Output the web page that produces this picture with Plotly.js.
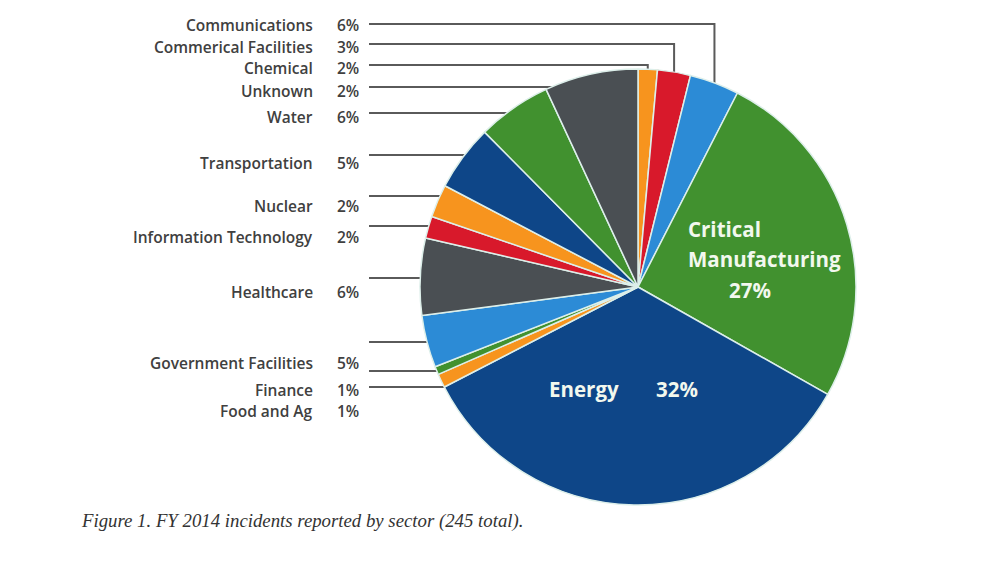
<!DOCTYPE html>
<html>
<head>
<meta charset="utf-8">
<script src="https://cdn.plot.ly/plotly-3.0.1.min.js"></script>
<style>html,body{margin:0;padding:0;background:#fff;}#chart{width:1000px;height:562px;}</style>
</head>
<body>
<div id="chart"></div>
<script>
// ---- data (clockwise from 12 o'clock) ----
const sectors = ['Chemical','Commerical Facilities','Communications','Critical Manufacturing','Energy',
  'Food and Ag','Finance','Government Facilities','Healthcare','Information Technology',
  'Nuclear','Transportation','Water','Unknown'];
const incidents = [3.5, 6, 9, 63, 84, 2.5, 1.5, 9.5, 14, 4, 6, 12, 13.5, 17];
const pctLabels = ['2%','3%','6%','27%','32%','1%','1%','5%','6%','2%','2%','5%','6%','2%'];
// left-hand label list, top to bottom
const listNames = ['Communications','Commerical Facilities','Chemical','Unknown','Water',
  'Transportation','Nuclear','Information Technology','Healthcare','Government Facilities','Finance','Food and Ag'];
const captionText = 'Figure 1. FY 2014 incidents reported by sector (245 total).';

// ---- styling ----
const palette = {orange:'#F7941E', red:'#D8192B', blue:'#2C8BD6', green:'#41912F', navy:'#0E4688', gray:'#4A4F53'};
const sliceColors = [palette.orange, palette.red, palette.blue, palette.green, palette.navy,
  palette.orange, palette.green, palette.blue, palette.gray, palette.red,
  palette.orange, palette.navy, palette.green, palette.gray];

const W = 1000, H = 562;
const cx = 638, cy = 287, R = 218;
const px = x => x / W, py = y => 1 - y / H;

// label layout (pixel rows)
const labelY = [25, 47, 68, 91, 117, 163, 206, 237, 292, 363, 390, 411];
const lineY  = [24, 44, 65, 87, 113, 155, 196, 226, 278, 342, 371, 387];
const verticalDrop = [true, true, true, false, false, false, false, false, false, false, false, false];

// slice geometry from data
const total = incidents.reduce((a, b) => a + b, 0);
const midAngle = {};
let acc = 0;
sectors.forEach((s, i) => {
  const a0 = acc / total * 2 * Math.PI;
  acc += incidents[i];
  const a1 = acc / total * 2 * Math.PI;
  midAngle[s] = (a0 + a1) / 2;
});

const annotations = [];
const shapes = [];
const labelFont = {family: 'Open Sans, sans-serif', size: 15.5, color: '#404040', weight: 600};

listNames.forEach((name, i) => {
  const idx = sectors.indexOf(name);
  annotations.push({x: px(314), y: py(labelY[i]), xref: 'paper', yref: 'paper', text: name,
    showarrow: false, xanchor: 'right', yanchor: 'middle', font: labelFont, borderpad: 0});
  annotations.push({x: px(336), y: py(labelY[i]), xref: 'paper', yref: 'paper', text: pctLabels[idx],
    showarrow: false, xanchor: 'left', yanchor: 'middle', font: labelFont, borderpad: 0});
  const ly = lineY[i];
  let pts;
  if (verticalDrop[i]) {
    const th = midAngle[name];
    const ex = cx + R * Math.sin(th), ey = cy - R * Math.cos(th);
    pts = [[369, ly], [ex, ly], [ex, ey + 2]];
  } else {
    const ex = cx - Math.sqrt(R * R - (ly - cy) * (ly - cy));
    pts = [[369, ly], [ex + 3, ly]];
  }
  const path = pts.map((p, k) => (k ? 'L' : 'M') + px(p[0]).toFixed(5) + ',' + py(p[1]).toFixed(5)).join(' ');
  shapes.push({type: 'path', xref: 'paper', yref: 'paper', path: path,
    line: {color: '#5a5a5a', width: 2}, layer: 'below'});
});

// in-slice labels
const bigFont = {family: 'Open Sans, sans-serif', size: 20.5, color: '#F2F8EE', weight: 700};
annotations.push({x: px(686), y: py(229), xref: 'paper', yref: 'paper', text: 'Critical',
  showarrow: false, xanchor: 'left', yanchor: 'middle', font: bigFont});
annotations.push({x: px(686), y: py(259), xref: 'paper', yref: 'paper', text: 'Manufacturing',
  showarrow: false, xanchor: 'left', yanchor: 'middle', font: bigFont});
annotations.push({x: px(750), y: py(290), xref: 'paper', yref: 'paper', text: pctLabels[3],
  showarrow: false, xanchor: 'center', yanchor: 'middle', font: bigFont});
annotations.push({x: px(547), y: py(389), xref: 'paper', yref: 'paper', text: 'Energy',
  showarrow: false, xanchor: 'left', yanchor: 'middle', font: bigFont});
annotations.push({x: px(654), y: py(389), xref: 'paper', yref: 'paper', text: pctLabels[4],
  showarrow: false, xanchor: 'left', yanchor: 'middle', font: bigFont});

// caption
annotations.push({x: px(79), y: py(521), xref: 'paper', yref: 'paper', text: captionText,
  showarrow: false, xanchor: 'left', yanchor: 'middle',
  font: {family: 'Liberation Serif, Times New Roman, serif', size: 18.8, color: '#333', style: 'italic'}});

const trace = {
  type: 'pie',
  labels: sectors,
  values: incidents,
  sort: false,
  direction: 'clockwise',
  rotation: 0,
  textinfo: 'none',
  hoverinfo: 'label+value',
  marker: {colors: sliceColors, line: {color: '#DDEFEA', width: 1.5}},
  domain: {x: [px(cx - R), px(cx + R)], y: [py(cy + R), py(cy - R)]},
  showlegend: false
};

const layout = {
  width: W, height: H,
  margin: {l: 0, r: 0, t: 0, b: 0},
  paper_bgcolor: '#ffffff',
  plot_bgcolor: '#ffffff',
  showlegend: false,
  annotations: annotations,
  shapes: shapes
};

Plotly.newPlot('chart', [trace], layout, {displayModeBar: false, staticPlot: true});
</script>
</body>
</html>
